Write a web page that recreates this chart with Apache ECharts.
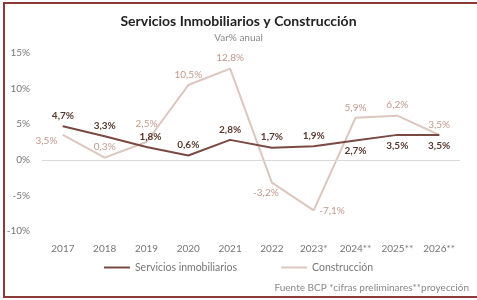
<!DOCTYPE html>
<html>
<head>
<meta charset="utf-8">
<script src="https://cdn.jsdelivr.net/npm/echarts@6/dist/echarts.min.js"></script>
<style>
  html, body { margin: 0; padding: 0; background: #fff; }
  #frame { position: absolute; left: 3px; top: 2px; width: 480px; height: 292px;
    border: 2px solid #8b3a3a; border-right: none; }
  #chart { position: absolute; left: 0; top: 0; width: 477px; height: 300px; }
</style>
</head>
<body>
<div id="frame"></div>
<div id="chart"></div>
<script>
const years = ['2017', '2018', '2019', '2020', '2021', '2022', '2023*', '2024**', '2025**', '2026**']
const servicios = [4.7, 3.3, 1.8, 0.6, 2.8, 1.7, 1.9, 2.7, 3.5, 3.5]
const construccion = [3.5, 0.3, 2.5, 10.5, 12.8, -3.2, -7.1, 5.9, 6.2, 3.5]
const serviciosPos = ['top', 'top', 'top', 'top', 'top', 'top', 'top', 'bottom', 'bottom', 'bottom']
const construccionPos = ['left', 'top', 'top', 'top', 'top', 'bottom', 'right', 'top', 'top', 'top']
// small nudges so labels sit like in the original
const serviciosOff = [[0, 0], [0, 0], [4, 0], [0, 0], [0, 0], [0, 0], [0, 0], [0, 0], [0, 0], [0, 0]]
const construccionOff = [[0, 6], [0, 0], [0, -8], [0, 0], [0, 0], [-6, 0], [0, 0], [0, 0], [0, 0], [0, 0]]

const fmt = v => v.toFixed(1).replace('.', ',') + '%'
const font = 'Lato'

const withPos = (values, pos, off) => values.map((v, i) => ({ value: v, label: { position: pos[i], offset: off[i] } }))

let chartDom = echarts.init(document.getElementById('chart'))
chartDom.setOption({
  animation: false,
  textStyle: { fontFamily: font },
  title: {
    text: 'Servicios Inmobiliarios y Construcción',
    subtext: 'Var% anual',
    left: 'center',
    top: 9,
    itemGap: 5,
    textStyle: { fontSize: 14, fontWeight: 'bold', color: '#222', fontFamily: font },
    subtextStyle: { fontSize: 10, color: '#888', fontFamily: font }
  },
  legend: {
    bottom: 22,
    left: 'center',
    itemWidth: 26,
    itemHeight: 2,
    itemGap: 44,
    icon: 'rect',
    textStyle: { fontSize: 10.5, color: '#777', fontFamily: font },
    data: ['Servicios inmobiliarios', 'Construcción']
  },
  graphic: [{
    type: 'text',
    right: 8,
    bottom: 7,
    style: { text: 'Fuente BCP *cifras preliminares**proyección', fontSize: 10, fill: '#888', fontFamily: font }
  }],
  grid: { left: 42, right: 17, top: 53, bottom: 69 },
  xAxis: {
    type: 'category',
    data: years,
    axisLine: { show: false, onZero: false },
    axisTick: { show: false },
    axisLabel: { color: '#777', fontSize: 10, margin: 13 }
  },
  yAxis: {
    type: 'value',
    min: -10,
    max: 15,
    interval: 5,
    splitLine: { show: false },
    axisLabel: { color: '#777', fontSize: 10, formatter: v => v + '%', margin: 12 }
  },
  series: [
    {
      name: 'Construcción',
      type: 'line',
      data: withPos(construccion, construccionPos, construccionOff),
      symbol: 'circle',
      symbolSize: 1,
      showSymbol: true,
      lineStyle: { color: '#dcc6be', width: 2 },
      itemStyle: { color: '#dcc6be' },
      label: { show: true, formatter: p => fmt(p.value), color: '#c39a8c', fontSize: 10, distance: 5 },
      z: 2
    },
    {
      name: 'Servicios inmobiliarios',
      type: 'line',
      data: withPos(servicios, serviciosPos, serviciosOff),
      symbol: 'circle',
      symbolSize: 1,
      showSymbol: true,
      lineStyle: { color: '#7a4a42', width: 2 },
      itemStyle: { color: '#7a4a42' },
      label: { show: true, formatter: p => fmt(p.value), color: '#5a3a2e', fontSize: 10, fontWeight: 'bold', distance: 5 },
      markLine: {
        silent: true,
        symbol: 'none',
        label: { show: false },
        lineStyle: { color: '#d9d9d9', type: 'solid', width: 1 },
        data: [{ yAxis: 0 }]
      },
      z: 3
    }
  ]
})
</script>
</body>
</html>
